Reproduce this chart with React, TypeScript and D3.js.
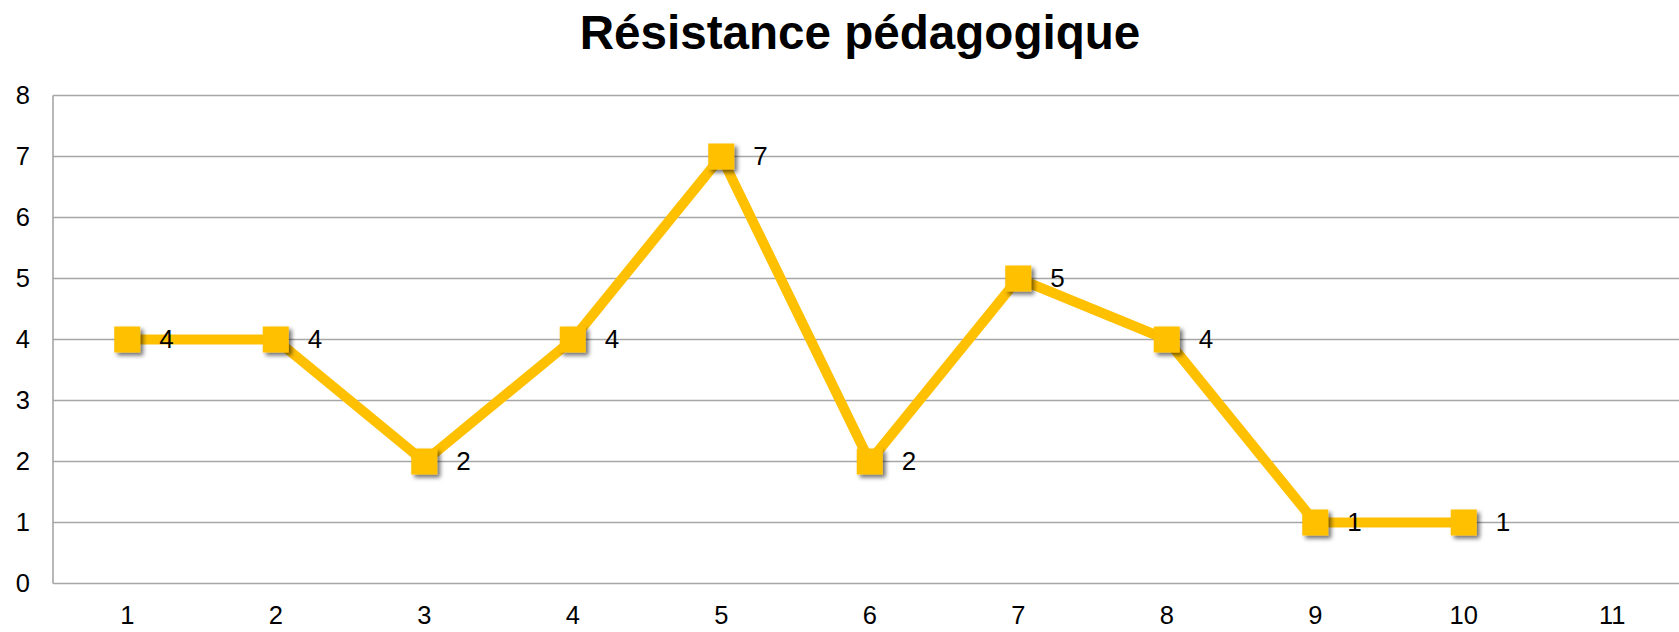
import React from "react";
import * as d3 from "d3";

const title = "Résistance pédagogique";
const categories = ["1", "2", "3", "4", "5", "6", "7", "8", "9", "10", "11"];
const values: (number | null)[] = [4, 4, 2, 4, 7, 2, 5, 4, 1, 1, null];
const yTicks = [0, 1, 2, 3, 4, 5, 6, 7, 8];

const W = 1679;
const H = 632;
const FONT = "'Liberation Sans', Arial, Helvetica, sans-serif";
const GOLD = "#FFC000";

export default function App() {
  const left = 53;
  const band = 148.5;
  const top = 95.5;
  const bottom = 583.5;
  const x = d3
    .scaleBand<string>()
    .domain(categories)
    .range([left, left + band * categories.length])
    .paddingInner(0)
    .paddingOuter(0);
  const y = d3.scaleLinear().domain([0, 8]).range([bottom, top]);
  const cx = (c: string) => (x(c) as number) + x.bandwidth() / 2;

  const pts = categories
    .map((c, i) => ({ c, v: values[i] }))
    .filter((d) => d.v !== null) as { c: string; v: number }[];

  const line = d3
    .line<{ c: string; v: number }>()
    .x((d) => cx(d.c))
    .y((d) => y(d.v));

  const ms = 26;

  return (
    <svg
      width={W}
      height={H}
      style={{ position: "absolute", left: 0, top: 0, background: "#fff" }}
      fontFamily={FONT}
    >
      <defs>
        <filter id="sh" x="-50%" y="-50%" width="200%" height="200%">
          <feDropShadow dx="3" dy="3" stdDeviation="2" floodColor="#000" floodOpacity="0.55" />
        </filter>
      </defs>
      <rect x={0} y={0} width={W} height={H} fill="#fff" />
      <text
        x={860}
        y={49}
        textAnchor="middle"
        fontSize={47.6}
        fontWeight="bold"
        fill="#000"
      >
        {title}
      </text>
      {yTicks.map((t) => (
        <g key={t}>
          <line
            x1={left}
            x2={W}
            y1={y(t)}
            y2={y(t)}
            stroke="#A6A6A6"
            strokeWidth={1.6}
          />
          <text
            x={30}
            y={y(t) + 2}
            textAnchor="end"
            dominantBaseline="middle"
            fontSize={25.5}
            fill="#000"
          >
            {t}
          </text>
        </g>
      ))}
      <line x1={left} x2={left} y1={top} y2={bottom} stroke="#A6A6A6" strokeWidth={1.6} />
      {categories.map((c) => (
        <text
          key={c}
          x={cx(c)}
          y={617}
          textAnchor="middle"
          dominantBaseline="middle"
          fontSize={25.5}
          fill="#000"
        >
          {c}
        </text>
      ))}
      <path
        d={line(pts) as string}
        fill="none"
        stroke={GOLD}
        strokeWidth={10}
        strokeLinejoin="miter"
      />
      {pts.map((d) => (
        <rect
          key={d.c}
          x={cx(d.c) - ms / 2}
          y={y(d.v) - ms / 2}
          width={ms}
          height={ms}
          fill={GOLD}
          filter="url(#sh)"
        />
      ))}
      {pts.map((d) => (
        <text
          key={"l" + d.c}
          x={cx(d.c) + 32}
          y={y(d.v) + 2}
          dominantBaseline="middle"
          fontSize={26}
          fill="#000"
        >
          {d.v}
        </text>
      ))}
    </svg>
  );
}
